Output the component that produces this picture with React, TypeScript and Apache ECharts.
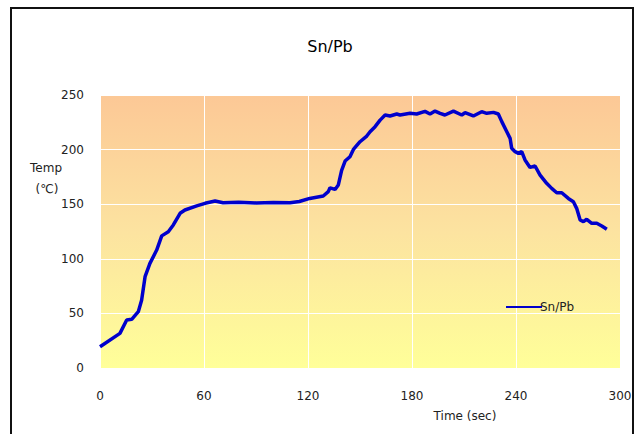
import React, { useEffect, useRef } from "react";
import * as echarts from "echarts";

const timeSec = [0, 11.5, 15.4, 18.3, 22.1, 24, 26, 28.8, 32.7, 35.6, 39.4, 42.3, 46.2, 49, 55.8, 60.6, 66.4, 71, 80, 90, 100, 109.6, 115, 121, 128.8, 131.7, 132.7, 135.6, 137.5, 139.4, 141.4, 144.2, 146.2, 150, 153.9, 155.8, 158.7, 161.6, 164.5, 167.3, 171.2, 173.1, 178.9, 182.7, 187.5, 190.4, 193.3, 196.2, 199, 203.9, 208.7, 210.6, 215.4, 220.2, 223.1, 227, 229.8, 231.8, 234.7, 236.6, 237.5, 239.5, 241.4, 243.3, 245.2, 248.1, 251, 253.9, 257.7, 260.6, 263.5, 266.4, 270.2, 273.1, 275, 277, 278.9, 280.8, 283.7, 286.6, 289.5, 292.4];
const tempC = [19.5, 31.7, 44, 44.6, 51.6, 62, 83.6, 95.8, 108, 121, 124.8, 131, 141.7, 144.7, 148.4, 150.8, 152.9, 151.4, 151.8, 151.2, 151.6, 151.4, 152.5, 155.3, 157.5, 161.5, 165, 163.5, 167.6, 181, 189.5, 193.5, 200.1, 207.2, 212.4, 216.4, 221, 227, 231.7, 230.8, 232.6, 231.7, 233.2, 232.6, 235, 232.6, 235.3, 233.2, 231.7, 235.3, 231.7, 233.8, 230.8, 234.7, 233.2, 234.1, 232.6, 225.6, 216.4, 210.3, 201.2, 198.1, 196.6, 198.1, 190.5, 183.7, 185, 176.7, 169.1, 164.5, 160.5, 160.5, 155.3, 152.3, 146.2, 135.5, 134, 136.2, 132.5, 132.5, 130, 127];
const seriesName = "Sn/Pb";
const chartTitle = "Sn/Pb";
const xAxisTitle = "Time (sec)";
const yAxisTitle1 = "Temp";
const yAxisTitle2 = "(℃)";

const FONT = "'DejaVu Sans', 'Noto Sans CJK JP', sans-serif";

export default function App() {
  const ref = useRef<HTMLDivElement>(null);
  useEffect(() => {
    if (!ref.current) return;
    const chart = echarts.init(ref.current, null, { renderer: "svg" });
    chart.setOption({
      animation: false,
      backgroundColor: "#ffffff",
      title: {
        text: chartTitle,
        left: 325,
        textAlign: "center",
        top: 33,
        textStyle: { fontSize: 16, fontWeight: "normal", color: "#000", fontFamily: FONT },
      },
      legend: {
        left: 501,
        top: 296,
        itemWidth: 36,
        itemHeight: 14,
        itemGap: 4,
        icon: "path://M0,6 L36,6 L36,8 L0,8 Z",
        data: [seriesName],
        textStyle: { fontSize: 12, color: "#222", fontFamily: FONT, padding: [0, 0, 0, -7] },
      },
      grid: {
        left: 100,
        right: 23,
        top: 95,
        bottom: 66,
        show: true,
        borderWidth: 0,
        backgroundColor: new echarts.graphic.LinearGradient(0, 0, 0, 1, [
          { offset: 0, color: "#FCC896" },
          { offset: 0.5, color: "#FCE3A0" },
          { offset: 1, color: "#FFFF99" },
        ]),
      },
      xAxis: {
        type: "value",
        min: 0,
        max: 300,
        interval: 60,
        axisLine: { show: false },
        axisTick: { show: false },
        axisLabel: { fontSize: 12, color: "#222", margin: 22, fontFamily: FONT },
        splitLine: { show: true, lineStyle: { color: "#ffffff", width: 1 } },
      },
      yAxis: {
        type: "value",
        min: 0,
        max: 250,
        interval: 50,
        axisLine: { show: false },
        axisTick: { show: false },
        axisLabel: { fontSize: 12, color: "#222", margin: 16, fontFamily: FONT },
        splitLine: { show: true, lineStyle: { color: "#ffffff", width: 1 } },
      },
      graphic: [
        {
          type: "rect",
          shape: { x: 11, y: 8, width: 622, height: 440 },
          style: { fill: "none", stroke: "#111", lineWidth: 2 },
          silent: true,
        },
        {
          type: "text",
          x: 465,
          y: 416,
          style: { text: xAxisTitle, fontSize: 12, fill: "#222", fontFamily: FONT, textAlign: "center", textVerticalAlign: "middle" },
        },
        {
          type: "text",
          x: 46,
          y: 168,
          style: { text: yAxisTitle1, fontSize: 12, fill: "#222", fontFamily: FONT, textAlign: "center", textVerticalAlign: "middle" },
        },
        {
          type: "text",
          x: 47,
          y: 189,
          style: { text: yAxisTitle2, fontSize: 12, fill: "#222", fontFamily: FONT, textAlign: "center", textVerticalAlign: "middle" },
        },
      ],
      series: [
        {
          name: seriesName,
          type: "line",
          data: timeSec.map((t, i) => [t, tempC[i]]),
          showSymbol: false,
          symbol: "none",
          lineStyle: { color: "#0000CC", width: 3.5 },
          itemStyle: { color: "#0000CC" },
        },
      ],
    });
    return () => chart.dispose();
  }, []);
  return (
    <div
      ref={ref}
      style={{ position: "fixed", left: 0, top: 0, width: 643, height: 434 }}
    />
  );
}
